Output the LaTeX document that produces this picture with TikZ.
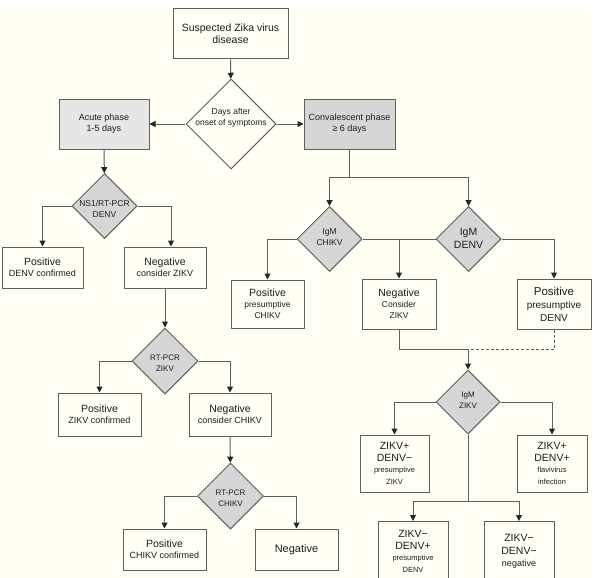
\documentclass[tikz,border=0pt]{standalone}
\usepackage{fontspec}
\setmainfont{Liberation Sans}
\usetikzlibrary{shapes.geometric,arrows.meta}
\definecolor{cream}{RGB}{255,255,243}
\definecolor{lincol}{RGB}{95,95,95}
\definecolor{dgray}{RGB}{214,214,214}
\definecolor{lgray}{RGB}{230,230,230}
\definecolor{txt}{RGB}{30,30,30}
\newcommand\lgf{\fontsize{10.5}{12}\selectfont}
\newcommand\mdf{\fontsize{9}{11}\selectfont}
\newcommand\smf{\fontsize{8}{11}\selectfont}
\tikzset{
	box/.style={draw=lincol,line width=1pt,rectangle,inner sep=0pt,align=center,text=txt,font=\mdf},
	diam/.style={draw=lincol,line width=1pt,fill=dgray,diamond,aspect=1,inner sep=0pt},
	dlbl/.style={align=center,text=txt,inner sep=0pt,font=\smf},
	arr/.style={draw=lincol,line width=1pt,-{Triangle[width=6pt,length=6pt,color=black!85]}},
	lin/.style={draw=lincol,line width=1pt}
}
\begin{document}
\begin{tikzpicture}[x=1pt,y=-1pt]
		% page and cream paper
		\useasboundingbox[fill=white] (0,0) rectangle (597,578);
		\fill[cream] (0,8) rectangle (592,578);
		% top
		\node[box,font=\lgf,minimum width=115,minimum height=50] (susp) at (230.5,34) {Suspected Zika virus\\disease};
		\node[diam,fill=none,minimum size=90] (days) at (231,124) {};
		\node[dlbl,font=\fontsize{8.5}{11}\selectfont] (daystxt) at (231,118) {Days after\\onset of symptoms};
		\node[box,fill=lgray,minimum width=90,minimum height=50] (acute) at (104,124) {Acute phase\\1-5 days};
		\node[box,fill=dgray,minimum width=91,minimum height=50] (conv) at (349.5,124) {Convalescent phase\\≥ 6 days};
		% acute phase branch
		\node[diam,minimum size=65] (ns1) at (104.5,206) {};
		\node[dlbl,font=\fontsize{8.5}{11}\selectfont] (ns1txt) at (104.5,209) {NS1/RT-PCR\\DENV};
		\node[box,minimum width=81,minimum height=41] (posdenv) at (42.5,267.5) {{\lgf Positive}\\DENV confirmed};
		\node[box,minimum width=82,minimum height=41] (negzikv) at (165,267.5) {{\lgf Negative}\\consider ZIKV};
		\node[diam,minimum size=66] (rtzikv) at (165,361) {};
		\node[dlbl] (rtzikvtxt) at (165,363) {RT-PCR\\ZIKV};
		\node[box,minimum width=83,minimum height=43] (poszikv) at (99.5,414.5) {{\lgf Positive}\\ZIKV confirmed};
		\node[box,minimum width=82,minimum height=43] (negchikv) at (230,414.5) {{\lgf Negative}\\consider CHIKV};
		\node[diam,minimum size=66] (rtchikv) at (230.5,496) {};
		\node[dlbl] (rtchikvtxt) at (230.5,498) {RT-PCR\\CHIKV};
		\node[box,minimum width=83,minimum height=41] (poschikv) at (164.5,549.5) {{\lgf Positive}\\CHIKV confirmed};
		\node[box,font=\fontsize{11}{12}\selectfont,minimum width=83,minimum height=41] (negall) at (296.5,549.5) {Negative};
		% convalescent phase branch
		\coordinate (convsplit) at (349.5,177);
		\node[diam,minimum size=65] (igmchikv) at (329.5,239) {};
		\node[dlbl,font=\fontsize{8.5}{11}\selectfont] (igmchikvtxt) at (329.5,237) {IgM\\CHIKV};
		\node[diam,minimum size=65] (igmdenv) at (468.5,239) {};
		\node[dlbl,font=\fontsize{10.5}{13}\selectfont] (igmdenvtxt) at (468.5,238) {IgM\\DENV};
		\node[box,font=\fontsize{8.5}{11}\selectfont,minimum width=73,minimum height=48] (poschik) at (267.5,304) {{\lgf Positive}\\presumptive\\CHIKV};
		\node[box,font=\fontsize{8.5}{11}\selectfont,minimum width=74,minimum height=50] (negcons) at (399,304) {{\lgf Negative}\\Consider\\ZIKV};
		\node[box,font=\fontsize{10}{13}\selectfont,minimum width=74,minimum height=50] (posdenvp) at (554,304) {{\fontsize{11.5}{13}\selectfont Positive}\\presumptive\\DENV};
		\coordinate (zikvjoin) at (468,349);
		\node[diam,minimum size=64] (igmzikv) at (468,402) {};
		\node[dlbl] (igmzikvtxt) at (468,400) {IgM\\ZIKV};
		\node[box,font=\fontsize{7.5}{11.5}\selectfont,minimum width=69,minimum height=57] (zpdm) at (394.5,463.5) {{\lgf ZIKV+}\\{\lgf DENV−}\\presumptive\\ZIKV};
		\node[box,font=\fontsize{7.5}{11.5}\selectfont,minimum width=70,minimum height=57] (zpdp) at (552,463.5) {{\lgf ZIKV+}\\{\lgf DENV+}\\flavivirus\\infection};
		\coordinate (zikvsplit) at (468,501);
		\node[box,font=\fontsize{7.5}{11.5}\selectfont,minimum width=70,minimum height=60,anchor=north] (zmdp) at (413,521) {{\lgf ZIKV−}\\{\lgf DENV+}\\presumptive\\DENV};
		\node[box,font=\fontsize{9}{12.5}\selectfont,minimum width=70,minimum height=60,anchor=north] (zmdm) at (519,521) {{\lgf ZIKV−}\\{\lgf DENV−}\\negative};
		% connectors
		\draw[arr] (susp) -- (days);
		\draw[arr] (days) -- (acute);
		\draw[arr] (days) -- (conv);
		\draw[arr] (acute) -- (ns1);
		\draw[arr] (ns1.west) -| (posdenv.north);
		\draw[arr] (ns1.east) -| ([xshift=6]negzikv.north);
		\draw[arr] (negzikv) -- (rtzikv);
		\draw[arr] (rtzikv.west) -| (poszikv.north);
		\draw[arr] (rtzikv.east) -| (negchikv.north);
		\draw[arr] (negchikv) -- (rtchikv);
		\draw[arr] (rtchikv.west) -| (poschikv.north);
		\draw[arr] (rtchikv.east) -| (negall.north);
		\draw[lin] (conv) -- (convsplit);
		\draw[arr] (convsplit) -| (igmchikv.north);
		\draw[arr] (convsplit) -| (igmdenv.north);
		\draw[arr] (igmchikv.west) -| (poschik.north);
		\draw[lin] (igmchikv.east) -- (igmdenv.west);
		\draw[arr] (igmchikv.east -| negcons.north) -- (negcons.north);
		\draw[arr] (igmdenv.east) -| (posdenvp.north);
		\draw[lin] (negcons.south) |- (zikvjoin);
		\draw[lin,densely dashed] (posdenvp.south) |- (zikvjoin);
		\draw[arr] (zikvjoin) -- (igmzikv);
		\draw[arr] (igmzikv.west) -| (zpdm.north);
		\draw[arr] (igmzikv.east) -| (zpdp.north);
		\draw[lin] (igmzikv.south) -- (zikvsplit);
		\draw[arr] (zikvsplit) -| (zmdp.north);
		\draw[arr] (zikvsplit) -| (zmdm.north);
\end{tikzpicture}
\end{document}
